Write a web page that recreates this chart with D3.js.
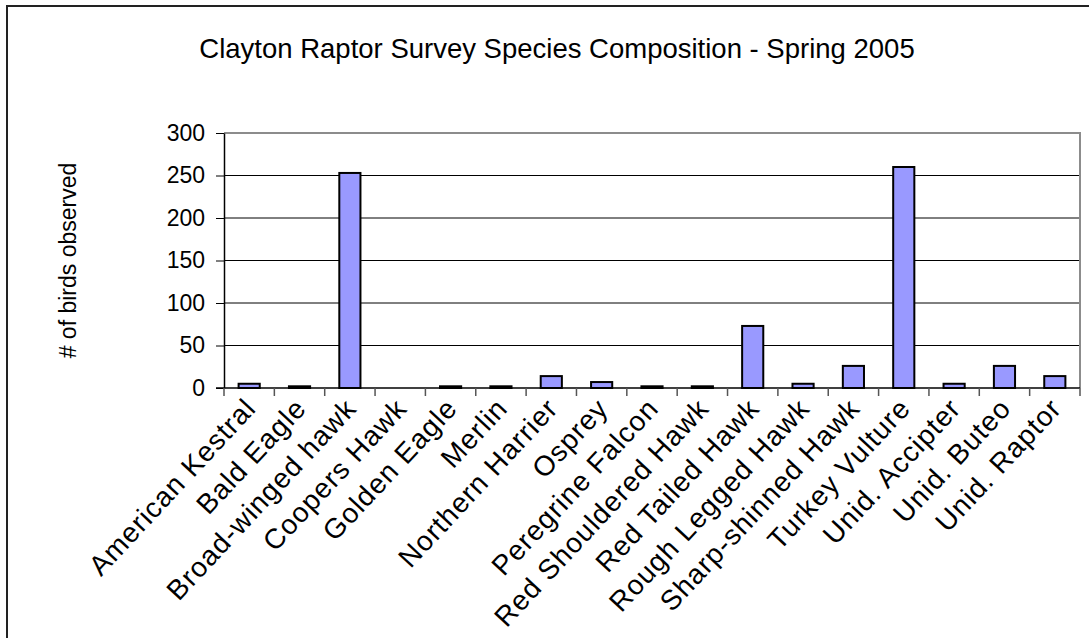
<!DOCTYPE html>
<html>
<head>
<meta charset="utf-8">
<script src="https://d3js.org/d3.v7.min.js"></script>
<style>
  html, body { margin: 0; padding: 0; background: #ffffff; }
  svg { display: block; font-family: "Liberation Sans", Arial, sans-serif; }
</style>
</head>
<body>
<svg id="chart" width="1089" height="638"></svg>
<script>
// Species counted during the spring 2005 survey
const species = [
  "American Kestral", "Bald Eagle", "Broad-winged hawk", "Coopers Hawk",
  "Golden Eagle", "Merlin", "Northern Harrier", "Osprey", "Peregrine Falcon",
  "Red Shouldered Hawk", "Red Tailed Hawk", "Rough Legged Hawk",
  "Sharp-shinned Hawk", "Turkey Vulture", "Unid. Accipter", "Unid. Buteo",
  "Unid. Raptor"
];
const counts = [5, 2, 253, 0, 2, 2, 14, 7, 2, 2, 73, 5, 26, 260, 5, 26, 14];
const yTicks = [0, 50, 100, 150, 200, 250, 300];

const titleText = "Clayton Raptor Survey Species Composition - Spring 2005";
const yLabelText = "# of birds observed";

const svg = d3.select("#chart");

// outer chart frame
svg.append("rect")
  .attr("x", 7).attr("y", 6)
  .attr("width", 1100).attr("height", 650)
  .attr("fill", "none").attr("stroke", "#222").attr("stroke-width", 2);

const plot = { left: 224, right: 1080, top: 133, bottom: 388 };

const x = d3.scaleBand().domain(species)
  .range([plot.left, plot.right]).paddingInner(0).paddingOuter(0);
const y = d3.scaleLinear().domain([0, 300]).range([plot.bottom, plot.top]);

// horizontal gridlines
svg.append("g").selectAll("line")
  .data(yTicks.filter(d => d > 0 && d < 300))
  .join("line")
  .attr("x1", plot.left).attr("x2", plot.right)
  .attr("y1", d => y(d)).attr("y2", d => y(d))
  .attr("stroke", "#000").attr("stroke-width", 1);

// plot area top and right edges
svg.append("path")
  .attr("d", `M${plot.left},${plot.top}H${plot.right}V${plot.bottom}`)
  .attr("fill", "none").attr("stroke", "#8c8c8c").attr("stroke-width", 2);

// bars
svg.append("g").selectAll("rect")
  .data(counts.map((v, i) => ({ name: species[i], v })))
  .join("rect")
  .filter(d => d.v > 0)
  .attr("x", d => x(d.name) + x.bandwidth() * 0.29)
  .attr("width", x.bandwidth() * 0.42)
  .attr("y", d => y(d.v))
  .attr("height", d => y(0) - y(d.v))
  .attr("fill", "#9999ff")
  .attr("stroke", "#000").attr("stroke-width", 2);

// y axis
const yAxis = svg.append("g")
  .attr("transform", `translate(${plot.left},0)`)
  .call(d3.axisLeft(y).tickValues(yTicks).tickSize(8).tickPadding(11).tickSizeOuter(0));
yAxis.select(".domain").attr("stroke", "#000").attr("stroke-width", 1.5);
yAxis.selectAll(".tick line").attr("stroke", "#000").attr("stroke-width", 1);
yAxis.selectAll(".tick text")
  .attr("font-size", 23).attr("fill", "#000")
  .attr("font-family", "Liberation Sans, Arial, sans-serif");

// x axis with ticks between categories
const xAxis = svg.append("g").attr("transform", `translate(0,${plot.bottom})`);
xAxis.append("line")
  .attr("x1", plot.left - 8).attr("x2", plot.right)
  .attr("stroke", "#000").attr("stroke-width", 1.5);
const bounds = species.map(s => x(s)).concat([plot.right]);
xAxis.selectAll("line.tk").data(bounds).join("line")
  .attr("class", "tk")
  .attr("x1", d => d).attr("x2", d => d)
  .attr("y1", 0).attr("y2", 8)
  .attr("stroke", "#555").attr("stroke-width", 1.5);
xAxis.selectAll("text").data(species).join("text")
  .attr("transform", d => `translate(${x(d) + x.bandwidth() / 2 + 1},${15}) rotate(-47)`)
  .attr("text-anchor", "end")
  .attr("dy", "0.35em")
  .attr("font-size", 28)
  .attr("letter-spacing", 1)
  .attr("fill", "#000")
  .text(d => d);

// title
svg.append("text")
  .attr("x", 557).attr("y", 58)
  .attr("text-anchor", "middle")
  .attr("font-size", 27.5)
  .attr("fill", "#000")
  .text(titleText);

// y axis title
svg.append("text")
  .attr("transform", `translate(76,${(plot.top + plot.bottom) / 2}) rotate(-90)`)
  .attr("text-anchor", "middle")
  .attr("font-size", 23)
  .attr("fill", "#000")
  .text(yLabelText);
</script>
</body>
</html>
